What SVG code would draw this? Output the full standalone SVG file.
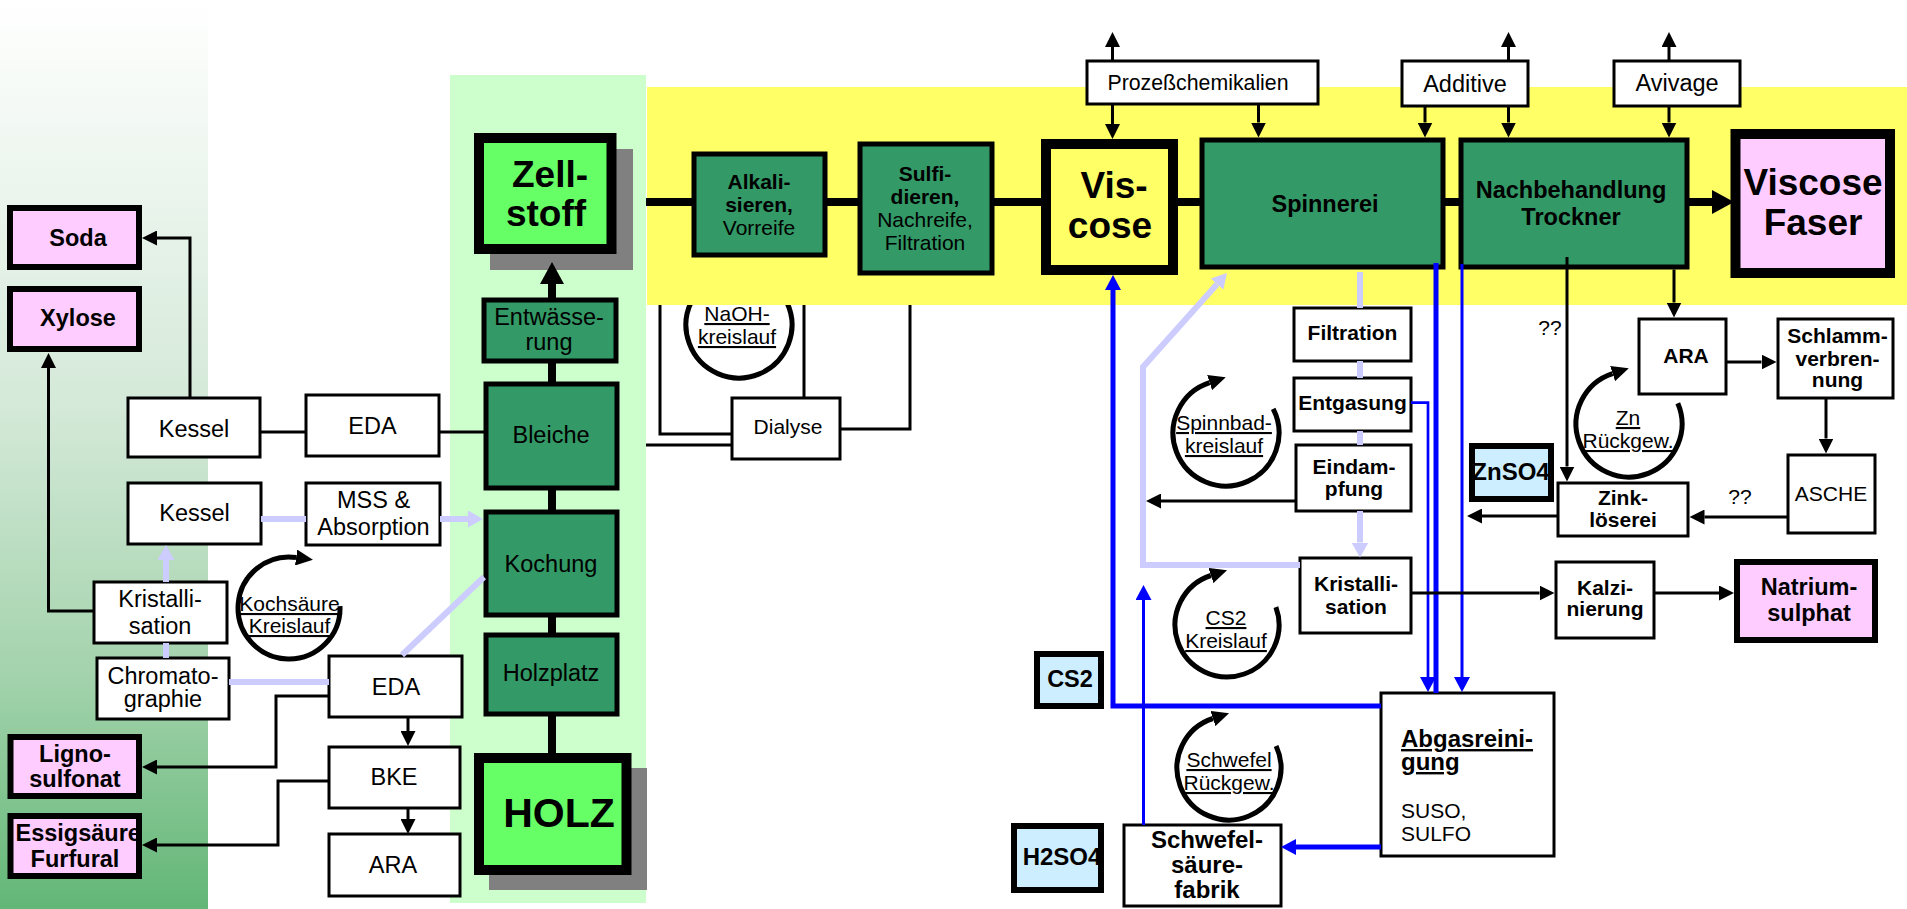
<svg xmlns="http://www.w3.org/2000/svg" width="1907" height="909" viewBox="0 0 1907 909">
<defs>
<linearGradient id="lg" x1="0" y1="0" x2="0" y2="1">
<stop offset="0" stop-color="#ffffff"/>
<stop offset="0.45" stop-color="#d4e9d8"/>
<stop offset="0.75" stop-color="#a2d2ab"/>
<stop offset="1" stop-color="#62b676"/>
</linearGradient>
<marker id="ah" markerUnits="userSpaceOnUse" markerWidth="15" markerHeight="15" refX="0" refY="7.5" orient="auto"><path d="M0,0L15,7.5L0,15z" fill="#000"/></marker>
<marker id="ahBig" markerUnits="userSpaceOnUse" markerWidth="22" markerHeight="24" refX="0" refY="12" orient="auto"><path d="M0,0L22,12L0,24z" fill="#000"/></marker>
<marker id="ahLav" markerUnits="userSpaceOnUse" markerWidth="15" markerHeight="17" refX="0" refY="8.5" orient="auto"><path d="M0,0L15,8.5L0,17z" fill="#ccccff"/></marker>
<marker id="ahBlue" markerUnits="userSpaceOnUse" markerWidth="15" markerHeight="16" refX="0" refY="8" orient="auto"><path d="M0,0L15,8L0,16z" fill="#0000ff"/></marker>
<marker id="ahCyc" markerUnits="userSpaceOnUse" markerWidth="17" markerHeight="16" refX="0" refY="8" orient="auto"><path d="M0,0L17,8L0,16z" fill="#000"/></marker>
</defs>
<style>
.t{font-family:'Liberation Sans',Arial,sans-serif;text-anchor:middle;fill:#000}
.s21{font-size:21px}
.s23{font-size:23.5px}
.b{font-weight:bold}
.u{text-decoration:underline}
.box{fill:#fff;stroke:#000;stroke-width:3}
.dg{fill:#339966;stroke:#000;stroke-width:5}
.pk{fill:#ffccff;stroke:#000;stroke-width:6}
.lb{fill:#cceeff;stroke:#000;stroke-width:6}
.ln{fill:none;stroke:#000;stroke-width:3}
.thick{fill:none;stroke:#000;stroke-width:8}
.lav{fill:none;stroke:#ccccff;stroke-width:6}
.bl{fill:none;stroke:#0000ff}
.cyc{fill:none;stroke:#000;stroke-width:5}
</style>

<g id="backgrounds">
<rect x="0" y="0" width="208" height="909" fill="url(#lg)"/>
<rect x="450" y="75" width="196" height="828" fill="#ccffcc"/>
</g>

<g id="cycle-naoh">
<path class="cyc" d="M787,302.6A53,53 0 1 1 722.6,274.6" marker-end="url(#ahCyc)"/>
</g>

<rect id="yellow-band" x="647" y="87" width="1260" height="218" fill="#ffff66"/>

<g id="naoh-label">
<text class="t s21 u" x="737" y="321">NaOH-</text>
<text class="t s21 u" x="737" y="344">kreislauf</text>
</g>

<!-- left side nodes -->
<g id="soda"><rect class="pk" x="10" y="208" width="129" height="59"/><text class="t s23 b" x="78" y="246">Soda</text></g>
<g id="xylose"><rect class="pk" x="10" y="289" width="129" height="60"/><text class="t s23 b" x="78" y="326">Xylose</text></g>
<g id="kessel1"><rect class="box" x="128" y="398" width="132" height="59"/><text class="t s23" x="194" y="437">Kessel</text></g>
<g id="eda1"><rect class="box" x="306" y="395" width="133" height="61"/><text class="t s23" x="372.5" y="434">EDA</text></g>
<g id="kessel2"><rect class="box" x="128" y="483" width="133" height="61"/><text class="t s23" x="194.5" y="521">Kessel</text></g>
<g id="mss"><rect class="box" x="306" y="483" width="134" height="62"/><text class="t s23" x="373.5" y="508">MSS &amp;</text><text class="t s23" x="373.5" y="535">Absorption</text></g>
<g id="kristall1"><rect class="box" x="94" y="582" width="133" height="61"/><text class="t s23" x="160" y="607">Kristalli-</text><text class="t s23" x="160" y="634">sation</text></g>
<g id="chromato"><rect class="box" x="97" y="658" width="132" height="61"/><text class="t s23" x="163" y="684">Chromato-</text><text class="t s23" x="163" y="707">graphie</text></g>
<g id="eda2"><rect class="box" x="329" y="656" width="133" height="61"/><text class="t s23" x="396" y="695">EDA</text></g>
<g id="bke"><rect class="box" x="329" y="747" width="131" height="61"/><text class="t s23" x="394" y="785">BKE</text></g>
<g id="ara1"><rect class="box" x="329" y="834" width="131" height="62"/><text class="t s23" x="393" y="873">ARA</text></g>
<g id="ligno"><rect class="pk" x="10.5" y="737" width="128.5" height="59"/><text class="t s23 b" x="75" y="762">Ligno-</text><text class="t s23 b" x="75" y="787">sulfonat</text></g>
<g id="essig"><rect x="10.5" y="816" width="128.5" height="60" fill="#ffccff"/><text class="t s23 b" x="15.5" y="841" style="text-anchor:start">Essigsäure</text><text class="t s23 b" x="75" y="867">Furfural</text><rect x="10.5" y="816" width="128.5" height="60" fill="none" stroke="#000" stroke-width="6"/></g>

<g id="cycle-kochsaeure">
<path class="cyc" d="M340,606.2A51,51 0 1 1 296.1,557.5" marker-end="url(#ahCyc)"/>
<text class="t s21 u" x="289.5" y="611">Kochsäure</text>
<text class="t s21 u" x="289.5" y="633">Kreislauf</text>
</g>

<!-- center column -->
<g id="zellstoff"><rect x="490" y="149" width="143" height="121" fill="#808080"/><rect x="479" y="138" width="132.5" height="111" fill="#66ff66" stroke="#000" stroke-width="10"/><text class="t b" style="font-size:37px" x="550" y="187">Zell-</text><text class="t b" style="font-size:37px" x="546" y="226">stoff</text></g>
<g id="entwaesserung"><rect class="dg" x="484" y="300" width="132" height="61"/><text class="t s23" x="549" y="325">Entwässe-</text><text class="t s23" x="549" y="350">rung</text></g>
<g id="bleiche"><rect class="dg" x="486" y="384" width="131" height="104"/><text class="t s23" x="551" y="443">Bleiche</text></g>
<g id="kochung"><rect class="dg" x="486" y="512" width="131" height="103"/><text class="t s23" x="551" y="572">Kochung</text></g>
<g id="holzplatz"><rect class="dg" x="486" y="635" width="131" height="79"/><text class="t s23" x="551" y="681">Holzplatz</text></g>
<g id="holz"><rect x="489" y="768" width="158" height="122" fill="#808080"/><rect x="479" y="758" width="147.5" height="112" fill="#66ff66" stroke="#000" stroke-width="10"/><text class="t b" style="font-size:41px" x="559" y="827">HOLZ</text></g>

<g id="dialyse"><rect class="box" x="732" y="398" width="108" height="61"/><text class="t s21" x="788" y="434">Dialyse</text></g>

<!-- top row -->
<g id="alkali"><rect class="dg" x="694" y="154" width="131" height="101"/><text class="t s21 b" x="759" y="189">Alkali-</text><text class="t s21 b" x="759" y="212">sieren,</text><text class="t s21" x="759" y="235">Vorreife</text></g>
<g id="sulfi"><rect class="dg" x="860" y="144" width="132" height="129"/><text class="t s21 b" x="925" y="181">Sulfi-</text><text class="t s21 b" x="925" y="204">dieren,</text><text class="t s21" x="925" y="227">Nachreife,</text><text class="t s21" x="925" y="250">Filtration</text></g>
<g id="viscose"><rect x="1046" y="144" width="127" height="126" fill="#ffff66" stroke="#000" stroke-width="10"/><text class="t b" style="font-size:37px" x="1114" y="198">Vis-</text><text class="t b" style="font-size:37px" x="1110" y="238">cose</text></g>
<g id="spinnerei"><rect class="dg" x="1202" y="140" width="241" height="127"/><text class="t s23 b" x="1325" y="212">Spinnerei</text></g>
<g id="nachbehandlung"><rect class="dg" x="1461" y="140" width="226" height="127"/><text class="t s23 b" x="1571" y="198">Nachbehandlung</text><text class="t s23 b" x="1571" y="225">Trockner</text></g>
<g id="viscosefaser"><rect x="1735.5" y="134" width="154.5" height="139" fill="#ffccff" stroke="#000" stroke-width="10"/><text class="t b" style="font-size:37px" x="1813" y="195">Viscose</text><text class="t b" style="font-size:37px" x="1813" y="235">Faser</text></g>
<g id="prozess"><rect class="box" x="1087" y="61" width="231" height="43"/><text class="t" style="font-size:21.3px" x="1198" y="90">Prozeßchemikalien</text></g>
<g id="additive"><rect class="box" x="1402" y="61" width="126" height="45"/><text class="t s23" x="1465" y="92">Additive</text></g>
<g id="avivage"><rect class="box" x="1614" y="61" width="126" height="45"/><text class="t s23" x="1677" y="91">Avivage</text></g>

<!-- right middle -->
<g id="filtration"><rect class="box" x="1294" y="308" width="117" height="53"/><text class="t s21 b" x="1352.5" y="340">Filtration</text></g>
<g id="entgasung"><rect class="box" x="1294" y="378" width="117" height="53"/><text class="t s21 b" x="1352.5" y="410">Entgasung</text></g>
<g id="eindampfung"><rect class="box" x="1296" y="445" width="115" height="66"/><text class="t s21 b" x="1354" y="474">Eindam-</text><text class="t s21 b" x="1354" y="496">pfung</text></g>
<g id="kristall2"><rect class="box" x="1300" y="558" width="111" height="75"/><text class="t s21 b" x="1356" y="591">Kristalli-</text><text class="t s21 b" x="1356" y="614">sation</text></g>
<g id="abgas"><rect class="box" x="1381" y="693" width="173" height="163"/><text class="t b u" style="font-size:24px;text-anchor:start" x="1401" y="747">Abgasreini-</text><text class="t b u" style="font-size:24px;text-anchor:start" x="1401" y="770">gung</text><text class="t s21" style="text-anchor:start" x="1401" y="818">SUSO,</text><text class="t s21" style="text-anchor:start" x="1401" y="841">SULFO</text></g>
<g id="schwefelfabrik"><rect class="box" x="1124" y="825" width="157" height="81"/><text class="t b" style="font-size:24px" x="1207" y="848">Schwefel-</text><text class="t b" style="font-size:24px" x="1207" y="873">säure-</text><text class="t b" style="font-size:24px" x="1207" y="898">fabrik</text></g>
<g id="cs2"><rect class="lb" x="1037" y="654" width="64" height="52"/><text class="t b" style="font-size:23.5px" x="1070" y="687">CS2</text></g>
<g id="h2so4"><rect class="lb" x="1014" y="826" width="87" height="64"/><text class="t b" style="font-size:24px" x="1062" y="865">H2SO4</text></g>
<g id="znso4"><rect class="lb" x="1472" y="446" width="79" height="53"/><text class="t b" style="font-size:24px" x="1511" y="480">ZnSO4</text></g>
<g id="ara2"><rect class="box" x="1639" y="319" width="87" height="75"/><text class="t s21 b" x="1686" y="363">ARA</text></g>
<g id="schlamm"><rect class="box" x="1778" y="319" width="115" height="79"/><text class="t s21 b" x="1837.5" y="343">Schlamm-</text><text class="t s21 b" x="1837.5" y="366">verbren-</text><text class="t s21 b" x="1837.5" y="387">nung</text></g>
<g id="asche"><rect class="box" x="1788" y="455" width="87" height="78"/><text class="t s21" x="1831" y="501">ASCHE</text></g>
<g id="zinkloeserei"><rect class="box" x="1558" y="483" width="130" height="53"/><text class="t s21 b" x="1623" y="505">Zink-</text><text class="t s21 b" x="1623" y="527">löserei</text></g>
<g id="kalzinierung"><rect class="box" x="1556" y="562" width="98" height="76"/><text class="t s21 b" x="1605" y="595">Kalzi-</text><text class="t s21 b" x="1605" y="616">nierung</text></g>
<g id="natrium"><rect class="pk" x="1737" y="562" width="138" height="78"/><text class="t s23 b" x="1809" y="595">Natrium-</text><text class="t s23 b" x="1809" y="621">sulphat</text></g>

<g id="cycle-spinnbad"><path class="cyc" d="M1273.2,408.9A53,53 0 1 1 1209.6,382.6" marker-end="url(#ahCyc)"/><text class="t s21 u" x="1224" y="430">Spinnbad-</text><text class="t s21 u" x="1224" y="453">kreislauf</text></g>
<g id="cycle-cs2"><path class="cyc" d="M1275.9,607.2A52,52 0 1 1 1210.9,575.5" marker-end="url(#ahCyc)"/><text class="t s21 u" x="1226" y="625">CS2</text><text class="t s21 u" x="1226" y="648">Kreislauf</text></g>
<g id="cycle-schwefel"><path class="cyc" d="M1276.1,746A52,52 0 1 1 1212.9,718.5" marker-end="url(#ahCyc)"/><text class="t s21 u" x="1229" y="767">Schwefel</text><text class="t s21 u" x="1229" y="790">Rückgew.</text></g>
<g id="cycle-zn"><path class="cyc" d="M1677.8,403.3A53,53 0 1 1 1612.6,373.6" marker-end="url(#ahCyc)"/><text class="t s21 u" x="1628" y="425">Zn</text><text class="t s21 u" x="1628" y="448">Rückgew.</text></g>

<g id="labels">
<text class="t s21" x="1550" y="335">??</text>
<text class="t s21" x="1740" y="504">??</text>
</g>

<g id="connectors">
<!-- lavender -->
<path class="lav" d="M261,519H306"/>
<path class="lav" d="M440,519H468" marker-end="url(#ahLav)"/>
<path class="lav" d="M166,582V560" marker-end="url(#ahLav)"/>
<path class="lav" d="M166,658V643"/>
<path class="lav" d="M229,682H329"/>
<path class="lav" d="M402,655L484,577"/>
<path class="lav" d="M1360,272V308M1360,361V378M1360,431V445"/>
<path class="lav" d="M1360,511V542.5" marker-end="url(#ahLav)"/>
<path class="lav" d="M1300,565H1143V367L1217,284.2" marker-end="url(#ahLav)"/>
<!-- blue -->
<path class="bl" stroke-width="5" d="M1381,706H1113V290" marker-end="url(#ahBlue)"/>
<path class="bl" stroke-width="3" d="M1143.5,825V600" marker-end="url(#ahBlue)"/>
<path class="bl" stroke-width="5" d="M1381,847H1296" marker-end="url(#ahBlue)"/>
<path class="bl" stroke-width="5" d="M1436,263V693"/>
<path class="bl" stroke-width="2.7" d="M1411,402.7H1428V677" marker-end="url(#ahBlue)"/>
<path class="bl" stroke-width="3" d="M1462,264V677" marker-end="url(#ahBlue)"/>
<!-- thick black -->
<path class="thick" d="M552,300V284" marker-end="url(#ahBig)"/>
<path class="thick" d="M552,361V384M552,488V512M552,615V635M552,714V753"/>
<path class="thick" d="M646,202H694M825,202H860M992,202H1041M1178,202H1200M1445,202H1461"/>
<path class="thick" d="M1689,202H1712" marker-end="url(#ahBig)"/>
<!-- thin black -->
<path class="ln" d="M190,398V238H157" marker-end="url(#ah)"/>
<path class="ln" d="M94,611H48.5V368" marker-end="url(#ah)"/>
<path class="ln" d="M260,432H306M439,432H484"/>
<path class="ln" d="M329,696H276V767H157" marker-end="url(#ah)"/>
<path class="ln" d="M408,717V731" marker-end="url(#ah)"/>
<path class="ln" d="M329,781H278V845H157" marker-end="url(#ah)"/>
<path class="ln" d="M408,808V819" marker-end="url(#ah)"/>
<path class="ln" d="M732,434H660V305M732,445H646M804,398V305M840,429H910V305"/>
<path class="ln" d="M1112.5,61V47" marker-end="url(#ah)"/>
<path class="ln" d="M1112.5,104V124" marker-end="url(#ah)"/>
<path class="ln" d="M1258.5,104V122.5" marker-end="url(#ah)"/>
<path class="ln" d="M1508.5,61V47" marker-end="url(#ah)"/>
<path class="ln" d="M1425,106V122.5" marker-end="url(#ah)"/>
<path class="ln" d="M1508.5,106V122.5" marker-end="url(#ah)"/>
<path class="ln" d="M1669,61V47" marker-end="url(#ah)"/>
<path class="ln" d="M1669,106V122.5" marker-end="url(#ah)"/>
<path class="ln" d="M1674,269.5V302.5" marker-end="url(#ah)"/>
<path class="ln" d="M1567,257V466.5" marker-end="url(#ah)"/>
<path class="ln" d="M1726,362H1761.5" marker-end="url(#ah)"/>
<path class="ln" d="M1826,398V438.5" marker-end="url(#ah)"/>
<path class="ln" d="M1788,517H1704.5" marker-end="url(#ah)"/>
<path class="ln" d="M1558,516H1482" marker-end="url(#ah)"/>
<path class="ln" d="M1296,501H1161" marker-end="url(#ah)"/>
<path class="ln" d="M1411,593H1539.5" marker-end="url(#ah)"/>
<path class="ln" d="M1654,593H1719" marker-end="url(#ah)"/>
</g>
</svg>
